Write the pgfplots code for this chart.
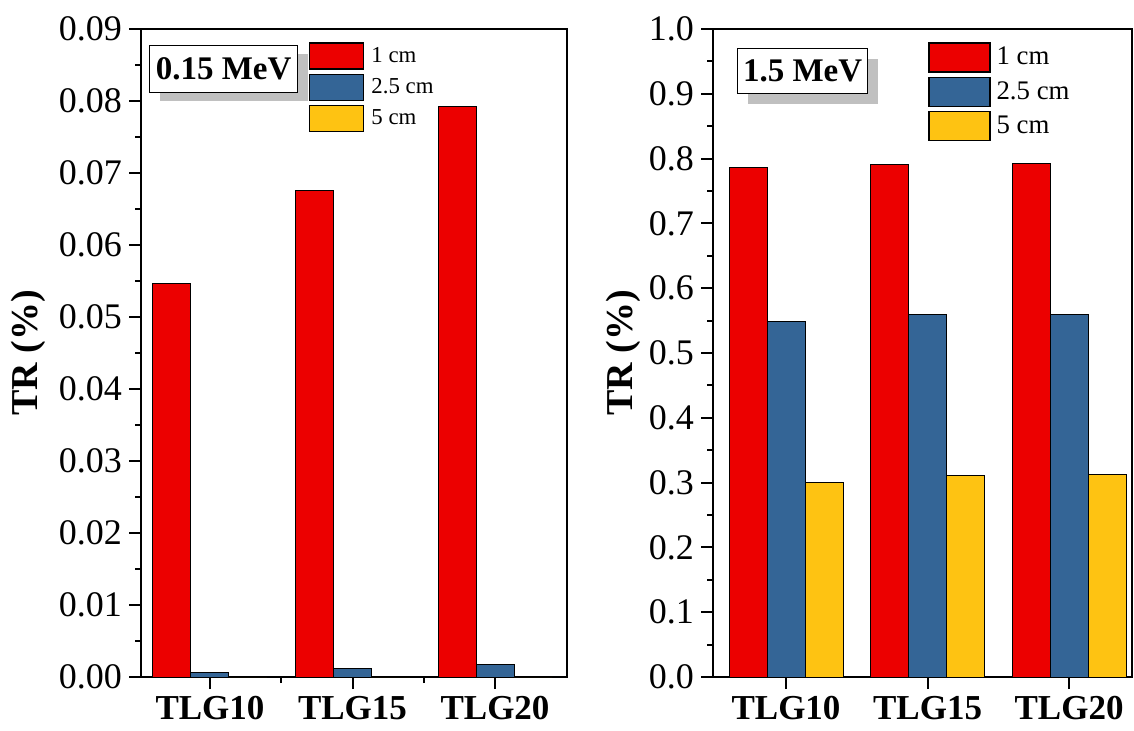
\documentclass[border=0pt]{standalone}
\usepackage{pgfplots}
\pgfplotsset{compat=1.18}
\usepackage{pgfplotstable}
\usepackage{fontspec}
\setmainfont{Liberation Serif}
\usetikzlibrary{shadows}

\definecolor{barred}{RGB}{236,0,0}
\definecolor{barblue}{RGB}{52,101,150}
\definecolor{baryellow}{RGB}{254,195,18}
\definecolor{shadowgray}{RGB}{192,192,192}

% TR (%) for the three glass samples, three thicknesses
\pgfplotstableread{
x  d1      d25      d5
0  0.0546  0.00056  0
1  0.0676  0.00115  0
2  0.0792  0.0018   0
}\lowE

\pgfplotstableread{
x  d1     d25    d5
0  0.786  0.549  0.300
1  0.791  0.559  0.311
2  0.793  0.560  0.313
}\highE

\pgfplotsset{
  panel/.style={
    scale only axis, height=324pt,
    ybar=0pt, bar width=19pt,
    ymin=0,
    xtick={0,1,2}, xticklabels={TLG10,TLG15,TLG20},
    tick align=outside, tick pos=left,
    axis line style={line width=1pt},
    every tick/.style={black, line width=1pt},
    major tick length=6pt, minor tick length=3pt,
    tick label style={font=\fontsize{18}{19}\selectfont},
    xticklabel style={font=\fontsize{17.5}{18}\selectfont\bfseries},
    /pgf/number format/assume math mode=true,
    scaled y ticks=false,
    ylabel={TR (\%)},
    ylabel style={anchor=center, font=\fontsize{19}{20}\selectfont\bfseries},
    every axis plot/.append style={draw=black, line width=0.5pt},
    legend cell align=left,
  },
}

\begin{document}
\begin{tikzpicture}
\useasboundingbox (0,0) rectangle (567pt,365pt);

% 0.15 MeV
\begin{axis}[panel,
  at={(70.5pt,26.5pt)}, anchor=south west,
  width=213pt,
  xmin=-0.484, xmax=2.505,
  ymax=0.09,
  ytick={0,0.01,0.02,0.03,0.04,0.05,0.06,0.07,0.08,0.09},
  minor tick num=1,
  yticklabel style={/pgf/number format/fixed, /pgf/number format/fixed zerofill,
    /pgf/number format/precision=2},
  ylabel style={at={(axis description cs:-0.265,0.5)}},
  legend image code/.code={\draw[#1, line width=0.6pt] (0pt,-6.5pt) rectangle (27pt,6.5pt);},
  legend style={draw=none, fill=none, at={(0.394,0.98)}, anchor=north west,
    inner sep=0pt, row sep=2pt, nodes={inner sep=0pt, anchor=west},
    font=\fontsize{11.4}{12}\selectfont,
    /tikz/every odd column/.style={column sep=3.5pt}},
]
\addplot[fill=barred] table[x=x, y=d1] {\lowE};
\addplot[fill=barblue] table[x=x, y=d25] {\lowE};
\addplot[fill=baryellow] table[x=x, y=d5] {\lowE};
\legend{1 cm, 2.5 cm, 5 cm}
\node[draw, line width=0.6pt, fill=white,
  drop shadow={shadow xshift=5pt, shadow yshift=-4pt, fill=shadowgray, opacity=1},
  anchor=north west, minimum width=74pt, minimum height=23.5pt, inner sep=0pt,
  xshift=4pt, yshift=-8pt,
  font=\fontsize{16.5}{17}\selectfont\bfseries] at (rel axis cs:0,1) {0.15 MeV};
\end{axis}

% 1.5 MeV
\begin{axis}[panel,
  at={(356.5pt,26.5pt)}, anchor=south west,
  width=209.5pt,
  xmin=-0.516, xmax=2.445,
  ymax=1.0,
  ytick={0,0.1,0.2,0.3,0.4,0.5,0.6,0.7,0.8,0.9,1.0},
  minor y tick num=1,
  yticklabel style={/pgf/number format/fixed, /pgf/number format/fixed zerofill,
    /pgf/number format/precision=1},
  ylabel style={at={(axis description cs:-0.215,0.5)}},
  legend image code/.code={\draw[#1, line width=0.6pt] (0pt,-7.25pt) rectangle (30.5pt,7.25pt);},
  legend style={draw=none, fill=none, at={(0.513,0.98)}, anchor=north west,
    inner sep=0pt, row sep=2pt, nodes={inner sep=0pt, anchor=west},
    font=\fontsize{13.4}{14}\selectfont,
    /tikz/every odd column/.style={column sep=3pt}},
]
\addplot[fill=barred] table[x=x, y=d1] {\highE};
\addplot[fill=barblue] table[x=x, y=d25] {\highE};
\addplot[fill=baryellow] table[x=x, y=d5] {\highE};
\legend{1 cm, 2.5 cm, 5 cm}
\node[draw, line width=0.6pt, fill=white,
  drop shadow={shadow xshift=5pt, shadow yshift=-5pt, fill=shadowgray, opacity=1},
  anchor=north west, minimum width=65pt, minimum height=22.5pt, inner sep=0pt,
  xshift=12pt, yshift=-9.5pt,
  font=\fontsize{16.5}{17}\selectfont\bfseries] at (rel axis cs:0,1) {1.5 MeV};
\end{axis}
\end{tikzpicture}
\end{document}
